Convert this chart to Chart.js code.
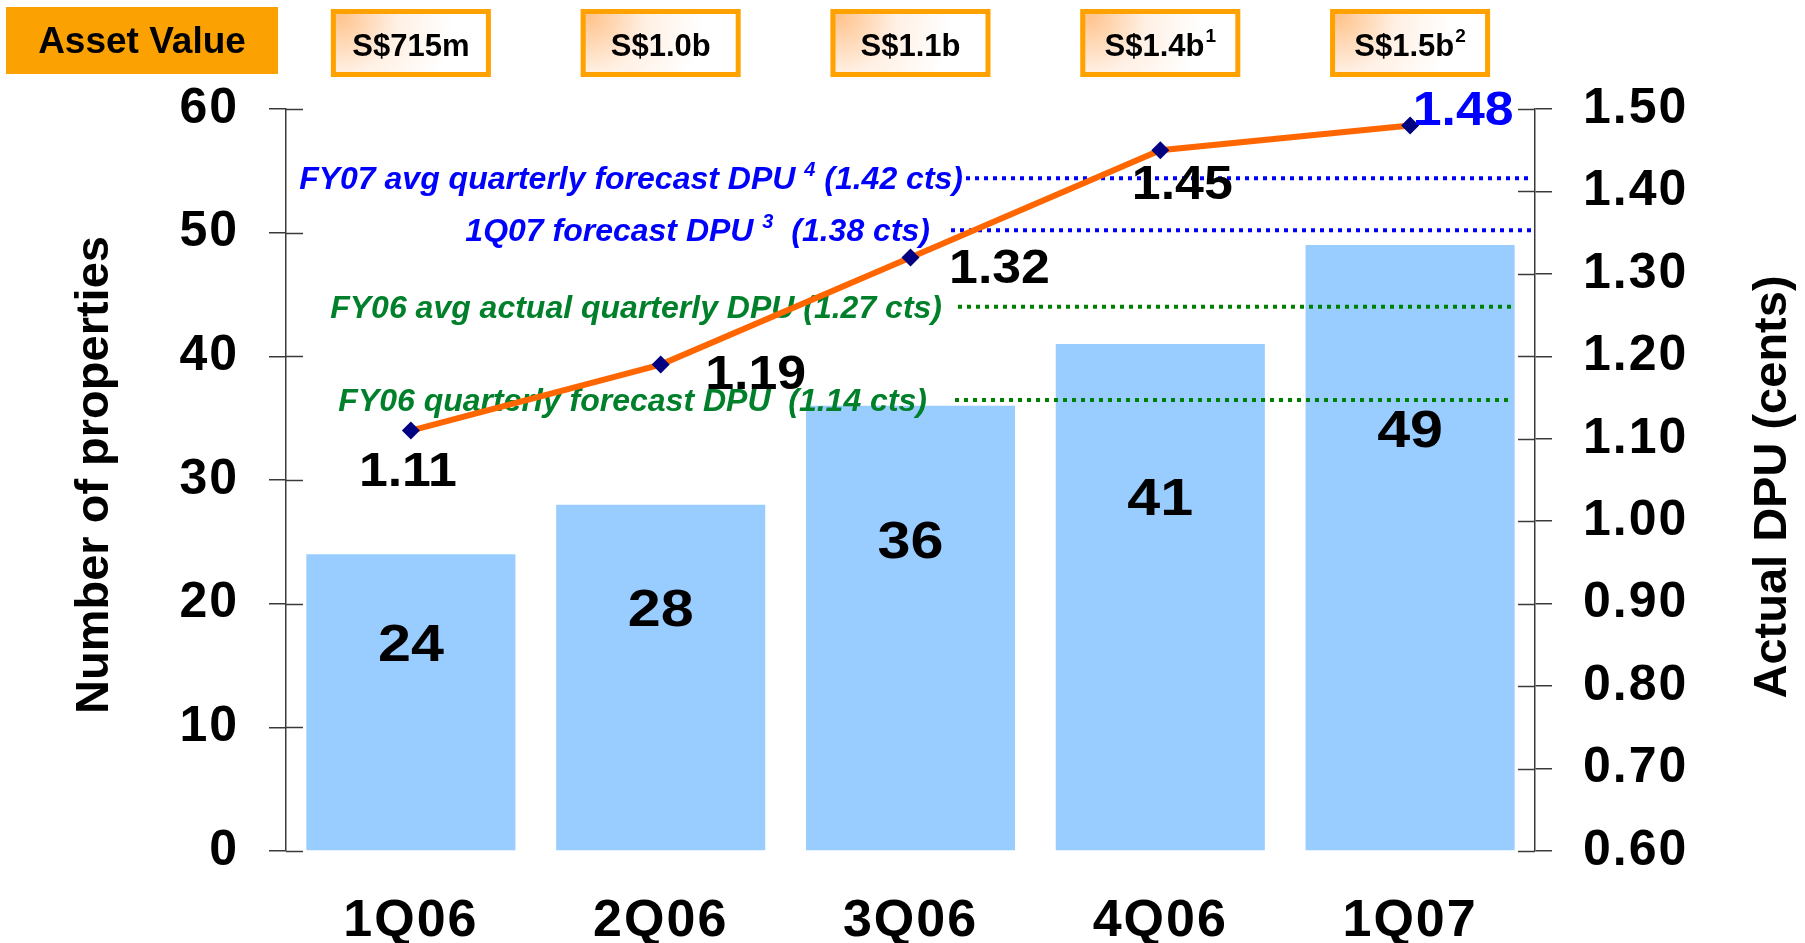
<!DOCTYPE html>
<html>
<head>
<meta charset="utf-8">
<script src="https://cdn.jsdelivr.net/npm/chart.js@4.4.1/dist/chart.umd.min.js"></script>
<style>
  html, body { margin: 0; padding: 0; background: #ffffff; }
  #wrap { width: 1805px; height: 943px; position: relative; }
</style>
</head>
<body>
<div id="wrap"><canvas id="c"></canvas></div>
<script>
// ---------------- data ----------------
const categories = ['1Q06', '2Q06', '3Q06', '4Q06', '1Q07'];
const propertyCounts = [24, 28, 36, 41, 49];
const actualDpu = [1.11, 1.19, 1.32, 1.45, 1.48];
const assetValues = ['S$715m', 'S$1.0b', 'S$1.1b', 'S$1.4b', 'S$1.5b'];
const assetNotes = ['', '', '', '1', '2'];
const propertyTicks = [0, 10, 20, 30, 40, 50, 60];
const dpuTicks = [0.60, 0.70, 0.80, 0.90, 1.00, 1.10, 1.20, 1.30, 1.40, 1.50];
const refTexts = ['FY07 avg quarterly forecast DPU ', '1Q07 forecast DPU ', 'FY06 avg actual quarterly DPU (1.27 cts)', 'FY06 quarterly forecast DPU  (1.14 cts)'];
const refNotes = ['4', '3', '', ''];
const refTails = [' (1.42 cts)', '  (1.38 cts)', '', ''];
const refLevels = [1.416, 1.353, 1.26, 1.147];

// ---------------- styling / layout (not data) ----------------
const FAM = "'Liberation Sans', Arial, Helvetica, sans-serif";
const f = (size, style) => (style ? style + ' ' : '') + 'bold ' + size + 'px ' + FAM;
const BLUE = '#0000ff';
const GREEN = '#00802b';
const GREEN_DOT = '#008000';
const refStyle = [
  { color: BLUE, dot: BLUE, textRight: 963, lineStart: 966, end: 'axis' },
  { color: BLUE, dot: BLUE, textRight: 930, lineStart: 951, end: 'axis' },
  { color: GREEN, dot: GREEN_DOT, textRight: 942, lineStart: 958, end: 'bar' },
  { color: GREEN, dot: GREEN_DOT, textRight: 927, lineStart: 955, end: 'bar' }
];
const lineLabelOffsets = [[-3, 42], [95, 11], [89, 12], [22, 36], [53, -14]];
const lineLabelColors = ['#000', '#000', '#000', '#000', BLUE];

function drawRich(ctx, segs, xRight, yMid, size, color, style) {
  const supSize = Math.round(size * 0.62);
  ctx.save();
  ctx.fillStyle = color;
  ctx.textBaseline = 'middle';
  ctx.textAlign = 'left';
  let total = 0;
  const items = segs.filter(s => s.t).map(s => {
    ctx.font = f(s.sup ? supSize : size, style);
    const w = ctx.measureText(s.t).width;
    total += w;
    return { t: s.t, sup: s.sup, w };
  });
  let x = xRight - total;
  items.forEach(s => {
    ctx.font = f(s.sup ? supSize : size, style);
    ctx.fillText(s.t, x, s.sup ? yMid - size * 0.3 : yMid);
    x += s.w;
  });
  ctx.restore();
}

// text drawn centred at (x, y) and stretched horizontally by sx
function drawWide(ctx, text, x, y, sx) {
  ctx.save();
  ctx.translate(x, y);
  ctx.scale(sx, 1);
  ctx.fillText(text, 0, 0);
  ctx.restore();
}

const decorPlugin = {
  id: 'decor',
  beforeDraw(chart) {
    // slightly wider tick labels (letter spacing) for the axes
    const spacing = { x: '2px', y: '2px', y1: '2px' };
    Object.keys(spacing).forEach(id => {
      const s = chart.scales[id];
      if (s && !s._wideLabels) {
        const orig = s.drawLabels.bind(s);
        s.drawLabels = function (area) {
          const ctx = this.ctx;
          ctx.save();
          ctx.letterSpacing = spacing[id];
          orig(area);
          ctx.restore();
        };
        s._wideLabels = true;
      }
    });
  },
  afterDatasetDraw(chart, args) {
    if (args.index !== 0) return;
    const ctx = chart.ctx;
    const y1 = chart.scales.y1;
    const barMeta = chart.getDatasetMeta(0);
    const lastBar = barMeta.data[barMeta.data.length - 1];
    const barRight = lastBar.x + lastBar.width / 2;
    refLevels.forEach((lvl, i) => {
      const st = refStyle[i];
      const y = y1.getPixelForValue(lvl);
      drawRich(ctx, [{ t: refTexts[i] }, { t: refNotes[i], sup: true }, { t: refTails[i] }],
        st.textRight, y + 2, 32, st.color, 'italic');
      const xEnd = st.end === 'axis' ? chart.chartArea.right - 3 : barRight - 3;
      ctx.save();
      ctx.strokeStyle = st.dot;
      ctx.lineWidth = 4;
      ctx.setLineDash([4, 5]);
      ctx.beginPath();
      ctx.moveTo(st.lineStart, y);
      ctx.lineTo(xEnd, y);
      ctx.stroke();
      ctx.restore();
    });
  },
  afterDatasetsDraw(chart) {
    const ctx = chart.ctx;
    const ys = chart.scales.y;
    // bar value labels
    const barMeta = chart.getDatasetMeta(0);
    ctx.save();
    ctx.fillStyle = '#000';
    ctx.font = f(52);
    ctx.textAlign = 'center';
    ctx.textBaseline = 'middle';
    barMeta.data.forEach((bar, i) => {
      drawWide(ctx, String(propertyCounts[i]), bar.x, ys.getPixelForValue(propertyCounts[i] * 0.69), 1.14);
    });
    // line value labels
    const lineMeta = chart.getDatasetMeta(1);
    ctx.font = f(48);
    lineMeta.data.forEach((pt, i) => {
      ctx.fillStyle = lineLabelColors[i];
      drawWide(ctx, actualDpu[i].toFixed(2), pt.x + lineLabelOffsets[i][0], pt.y + lineLabelOffsets[i][1], 1.08);
    });
    ctx.restore();
  },
  afterDraw(chart) {
    const ctx = chart.ctx;
    const area = chart.chartArea;
    // inner halves of the axis tick marks
    ctx.save();
    ctx.strokeStyle = '#3a3a3a';
    ctx.lineWidth = 1.5;
    const ys = chart.scales.y, y1 = chart.scales.y1;
    ys.ticks.forEach((t, i) => {
      const y = Math.round(ys.getPixelForTick(i)) + 0.5;
      ctx.beginPath(); ctx.moveTo(area.left, y); ctx.lineTo(area.left + 17, y); ctx.stroke();
    });
    y1.ticks.forEach((t, i) => {
      const y = Math.round(y1.getPixelForTick(i)) + 0.5;
      ctx.beginPath(); ctx.moveTo(area.right, y); ctx.lineTo(area.right - 17, y); ctx.stroke();
    });
    ctx.restore();

    // axis titles (rotated, reading bottom to top)
    ctx.save();
    ctx.fillStyle = '#000';
    ctx.font = f(47);
    ctx.textAlign = 'center';
    ctx.textBaseline = 'middle';
    ctx.translate(95, (area.top + area.bottom) / 2 - 5);
    ctx.rotate(-Math.PI / 2);
    ctx.fillText('Number of properties', 0, 0);
    ctx.restore();
    ctx.save();
    ctx.fillStyle = '#000';
    ctx.font = f(47);
    ctx.textAlign = 'center';
    ctx.textBaseline = 'middle';
    ctx.translate(1773, (area.top + area.bottom) / 2 + 7);
    ctx.rotate(-Math.PI / 2);
    ctx.fillText('Actual DPU (cents)', 0, 0);
    ctx.restore();

    // "Asset Value" header box
    ctx.save();
    ctx.fillStyle = '#fba101';
    ctx.fillRect(6, 7, 272, 67);
    ctx.fillStyle = '#000';
    ctx.font = f(37);
    ctx.textAlign = 'center';
    ctx.textBaseline = 'alphabetic';
    ctx.fillText('Asset Value', 142, 53);
    ctx.restore();

    // asset value boxes above each quarter
    const xs = chart.scales.x;
    assetValues.forEach((txt, i) => {
      const cx = xs.getPixelForValue(i);
      const w = 160, h = 68, top = 9;
      const x = cx - w / 2;
      ctx.save();
      const g = ctx.createRadialGradient(x + 10, top + 8, 0, x + 10, top + 8, w * 0.7);
      g.addColorStop(0, '#ffc48e');
      g.addColorStop(0.5, '#fff0e4');
      g.addColorStop(1, '#ffffff');
      ctx.fillStyle = g;
      ctx.fillRect(x, top, w, h);
      ctx.strokeStyle = '#ffa200';
      ctx.lineWidth = 5;
      ctx.strokeRect(x + 2.5, top + 2.5, w - 5, h - 5);
      ctx.fillStyle = '#000';
      ctx.textBaseline = 'alphabetic';
      ctx.font = f(31);
      const wMain = ctx.measureText(txt).width;
      ctx.font = f(19);
      const wSup = assetNotes[i] ? ctx.measureText(assetNotes[i]).width + 1 : 0;
      const startX = cx - (wMain + wSup) / 2;
      ctx.textAlign = 'left';
      ctx.font = f(31);
      ctx.fillText(txt, startX, top + h / 2 + 13);
      if (assetNotes[i]) {
        ctx.font = f(19);
        ctx.fillText(assetNotes[i], startX + wMain + 1, top + h / 2 - 1);
      }
      ctx.restore();
    });
  }
};

const AXIS_COLOR = '#3a3a3a';

new Chart(document.getElementById('c'), {
  type: 'bar',
  data: {
    labels: categories,
    datasets: [
      {
        type: 'bar',
        label: 'Number of properties',
        data: propertyCounts,
        yAxisID: 'y',
        backgroundColor: '#99ccff',
        borderWidth: 0,
        barPercentage: 0.837,
        categoryPercentage: 1.0,
        order: 2
      },
      {
        type: 'line',
        label: 'Actual DPU (cents)',
        data: actualDpu,
        yAxisID: 'y1',
        borderColor: '#ff6600',
        borderWidth: 6,
        tension: 0,
        pointStyle: 'rectRot',
        pointRadius: 9,
        pointBackgroundColor: '#000080',
        pointBorderColor: '#000080',
        pointBorderWidth: 0,
        order: 1
      }
    ]
  },
  options: {
    responsive: true,
    maintainAspectRatio: false,
    animation: false,
    devicePixelRatio: 1,
    layout: { padding: { top: 109, left: 0, right: 0, bottom: 0 } },
    plugins: { legend: { display: false }, tooltip: { enabled: false } },
    scales: {
      x: {
        offset: true,
        grid: { display: false },
        border: { display: false },
        ticks: { color: '#000', font: { family: FAM, size: 52, weight: 'bold' }, padding: 31, maxRotation: 0 },
        afterFit(s) { s.height = 92; }
      },
      y: {
        position: 'left',
        min: 0, max: 60,
        afterBuildTicks(s) { s.ticks = propertyTicks.map(v => ({ value: v })); },
        grid: { drawOnChartArea: false, drawTicks: true, tickLength: 17, color: AXIS_COLOR, tickColor: AXIS_COLOR, lineWidth: 1.5, tickWidth: 1.5 },
        border: { display: true, color: AXIS_COLOR, width: 1.5 },
        ticks: { color: '#000', font: { family: FAM, size: 50, weight: 'bold' }, padding: 30 },
        afterFit(s) { s.width = 286; }
      },
      y1: {
        position: 'right',
        min: 0.6, max: 1.5,
        afterBuildTicks(s) { s.ticks = dpuTicks.map(v => ({ value: v })); },
        grid: { drawOnChartArea: false, drawTicks: true, tickLength: 17, color: AXIS_COLOR, tickColor: AXIS_COLOR, lineWidth: 1.5, tickWidth: 1.5 },
        border: { display: true, color: AXIS_COLOR, width: 1.5 },
        ticks: { color: '#000', font: { family: FAM, size: 50, weight: 'bold' }, padding: 31, callback: v => Number(v).toFixed(2) },
        afterFit(s) { s.width = 270; }
      }
    }
  },
  plugins: [decorPlugin]
});
</script>
</body>
</html>
